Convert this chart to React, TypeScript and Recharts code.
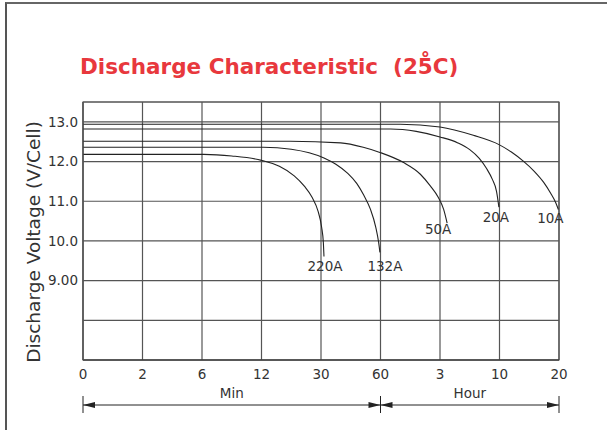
import React from 'react'
import { LineChart, Line, XAxis, YAxis, CartesianGrid, ReferenceArea } from 'recharts'

// split time axis: ticks are evenly spaced, 0..5 = minutes, 5..8 = hours
const xTickLabels = ['0', '2', '6', '12', '30', '60', '3', '10', '20']
const timeSpans = [
  { label: 'Min', from: 0, to: 5 },
  { label: 'Hour', from: 5, to: 8 },
]

const yTicks = [7, 8, 9, 10, 11, 12, 13]
const yTickLabels = ['', '', '9.00', '10.0', '11.0', '12.0', '13.0']

// positions are in tick units of the time axis above
const pos10A = [0, 5.33, 6.0, 6.56, 7.0, 7.2, 7.4, 7.58, 7.74, 7.86, 7.94, 7.99]
const volt10A = [12.94, 12.94, 12.87, 12.66, 12.42, 12.24, 12.01, 11.76, 11.48, 11.2, 10.98, 10.79]

const pos20A = [0, 5.17, 5.6, 6.0, 6.3, 6.5, 6.66, 6.78, 6.88, 6.95, 6.99]
const volt20A = [12.82, 12.82, 12.76, 12.62, 12.47, 12.3, 12.08, 11.83, 11.55, 11.25, 10.85]

const pos50A = [0, 3.48, 4.33, 4.71, 4.99, 5.38, 5.67, 5.84, 5.97, 6.06, 6.12]
const volt50A = [12.51, 12.51, 12.47, 12.36, 12.23, 11.98, 11.68, 11.38, 11.1, 10.8, 10.45]

const pos132A = [0, 3.03, 3.5, 3.8, 4.05, 4.25, 4.45, 4.6, 4.72, 4.83, 4.92, 4.97, 4.99]
const volt132A = [12.36, 12.36, 12.31, 12.22, 12.09, 11.93, 11.7, 11.45, 11.15, 10.8, 10.35, 9.95, 9.71]

const pos220A = [0, 2.03, 2.5, 3.0, 3.3, 3.55, 3.72, 3.85, 3.95, 4.01, 4.04, 4.05]
const volt220A = [12.18, 12.18, 12.14, 12.03, 11.88, 11.64, 11.38, 11.1, 10.75, 10.35, 9.95, 9.61]

const series = [
  { name: '10A', pos: pos10A, volt: volt10A, dx: -8, dy: 9 },
  { name: '20A', pos: pos20A, volt: volt20A, dx: -3, dy: 10 },
  { name: '50A', pos: pos50A, volt: volt50A, dx: -9, dy: 6 },
  { name: '132A', pos: pos132A, volt: volt132A, dx: 5, dy: 14 },
  { name: '220A', pos: pos220A, volt: volt220A, dx: 1, dy: 10 },
]

const W = 607
const H = 430
const MARGIN = { top: 102, right: 48, bottom: 0, left: 0 }
const Y_AXIS_W = 83
const X_AXIS_H = 70
const FONT = '"DejaVu Sans", Verdana, sans-serif'
const TEXT = '#333'
const GRID = '#555'

function TimeTick(props: any) {
  const { x, y, payload } = props
  const n = xTickLabels.length - 1
  const plotW = props.width || W - MARGIN.left - MARGIN.right - Y_AXIS_W
  const step = plotW / n
  const i = payload.value
  const ay = y + 36
  const parts: React.ReactNode[] = []
  parts.push(
    <text key="t" x={x} y={y} dy="0.75em" textAnchor="middle" fill={TEXT} fontSize={13.5} fontFamily={FONT}>
      {xTickLabels[i]}
    </text>
  )
  timeSpans.forEach((s, k) => {
    if (s.from === i) {
      const x2 = x + (s.to - s.from) * step
      parts.push(
        <g key={'s' + k}>
          <line x1={x} y1={ay} x2={x2} y2={ay} stroke="#222" strokeWidth={1} />
          <polygon points={`${x},${ay} ${x + 12},${ay - 3} ${x + 12},${ay + 3}`} fill="#222" />
          <polygon points={`${x2},${ay} ${x2 - 12},${ay - 3} ${x2 - 12},${ay + 3}`} fill="#222" />
          <text x={(x + x2) / 2} y={ay - 7} textAnchor="middle" fill={TEXT} fontSize={13.5} fontFamily={FONT}>
            {s.label}
          </text>
        </g>
      )
    }
  })
  if (timeSpans.some((s) => s.from === i || s.to === i)) {
    parts.push(<line key="b" x1={x} y1={ay - 9} x2={x} y2={ay + 8} stroke="#222" strokeWidth={1} />)
  }
  return <g>{parts}</g>
}

function endLabel(name: string, count: number, dx: number, dy: number) {
  return (props: any) => {
    if (props.index !== count - 1) return <g />
    return (
      <text x={props.x + dx} y={props.y + dy} dy="0.36em" textAnchor="middle" fill={TEXT} fontSize={13.5} fontFamily={FONT}>
        {name}
      </text>
    )
  }
}

export default function App() {
  return (
    <div style={{ position: 'absolute', left: 0, top: 0, width: W, height: H, background: '#fff', overflow: 'hidden' }}>
      <div style={{ position: 'absolute', left: 5, top: 2, width: W, height: H, borderTop: '2px solid #666', borderLeft: '2px solid #555' }} />
      <div
        style={{
          position: 'absolute',
          left: 80,
          top: 54,
          color: '#e8383d',
          fontFamily: FONT,
          fontWeight: 'bold',
          fontSize: 21.5,
          whiteSpace: 'pre',
        }}
      >
        {'Discharge Characteristic  (25\u030AC)'}
      </div>
      <div
        style={{
          position: 'absolute',
          left: 33,
          top: 242,
          transform: 'translate(-50%, -50%) rotate(-90deg)',
          color: TEXT,
          fontFamily: FONT,
          fontSize: 18.5,
          whiteSpace: 'nowrap',
        }}
      >
        Discharge Voltage (V/Cell)
      </div>
      <div style={{ position: 'absolute', left: 0, top: 0 }}>
        <LineChart width={W} height={H} margin={MARGIN}>
          <CartesianGrid stroke={GRID} strokeWidth={1.2} />
          <XAxis
            type="number"
            dataKey="x"
            domain={[0, xTickLabels.length - 1]}
            ticks={xTickLabels.map((_, i) => i)}
            interval={0}
            height={X_AXIS_H}
            tickLine={false}
            tickSize={0}
            tickMargin={9}
            axisLine={{ stroke: '#333' }}
            tick={<TimeTick />}
            allowDuplicatedCategory={false}
          />
          <YAxis
            type="number"
            domain={[7, 13.5]}
            ticks={yTicks}
            interval={0}
            width={Y_AXIS_W}
            tickLine={false}
            tickSize={0}
            tickMargin={5}
            axisLine={{ stroke: '#555' }}
            tick={{ fill: TEXT, fontSize: 13.5, fontFamily: FONT }}
            tickFormatter={(v: number) => yTickLabels[yTicks.indexOf(v)] ?? ''}
          />
          <ReferenceArea x1={0} x2={8} y1={7} y2={13.5} fill="none" stroke={GRID} strokeWidth={1.2} fillOpacity={0} />
          {series.map((s) => (
            <Line
              key={s.name}
              data={s.pos.map((p, i) => ({ x: p, v: s.volt[i] }))}
              dataKey="v"
              type="monotone"
              stroke="#222"
              strokeWidth={1.1}
              dot={false}
              activeDot={false}
              isAnimationActive={false}
              label={endLabel(s.name, s.pos.length, s.dx, s.dy)}
            />
          ))}
        </LineChart>
      </div>
    </div>
  )
}
